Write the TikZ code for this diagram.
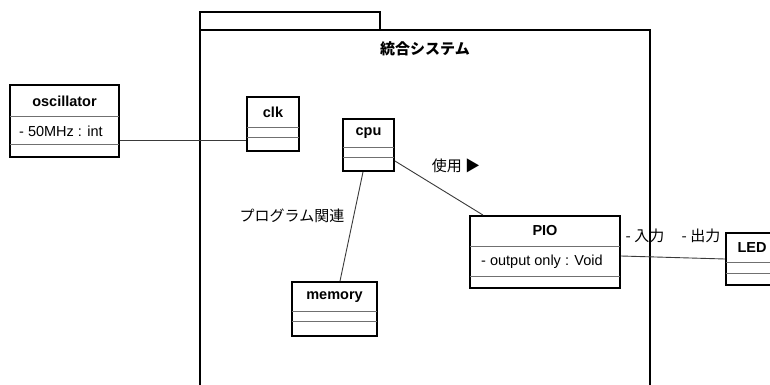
\documentclass[tikz,border=0pt]{standalone}
\usepackage{fontspec}
\setmainfont{Liberation Sans}
\newfontfamily\jp{Noto Sans CJK JP}
\usetikzlibrary{calc, positioning}
\definecolor{linecol}{HTML}{000000}
\definecolor{divcol}{HTML}{707070}
\definecolor{wirecol}{HTML}{3A3A3A}

\begin{document}
\begin{tikzpicture}[
    x=1pt, y=-1pt,
    every node/.style={font=\fontsize{14.5}{16}\selectfont},
    cls/.style={
        rectangle, draw=linecol, line width=1.9pt, fill=white,
        inner sep=0pt, minimum width=#1,
    },
    cname/.style={font=\fontsize{14.5}{16}\selectfont\bfseries, inner sep=0pt},
    attr/.style={anchor=west, inner sep=0pt},
    div/.style={draw=divcol, line width=0.8pt, shorten <=1pt, shorten >=1pt},
    wire/.style={draw=wirecol, line width=0.9pt},
    pkg/.style={draw=linecol, line width=1.9pt},
    jlab/.style={font=\fontsize{15}{17}\selectfont\jp, inner sep=0pt},
]
\clip (0,0) rectangle (770,385);
\fill[white] (0,0) rectangle (770,385);

% ---------------------------------------------------------------- package
\draw[pkg] (200,30) rectangle (380,12);
\draw[pkg] (200,395) -- (200,30) -- (650,30) -- (650,395);
\node[jlab, font=\fontsize{15}{17}\selectfont\jp\bfseries] (title) at (425,49) {統合システム};

% ---------------------------------------------------------------- classes
\node[cls=109pt, minimum height=72pt] (osc) at (64.5,121) {};
\node[cname] (osc-name) at (64.5,101) {oscillator};
\node[attr] (osc-attr) at (19,131) {- 50MHz : int};

\node[cls=52pt, minimum height=54pt] (clk) at (273,124) {};
\node[cname] (clk-name) at (273,112) {clk};

\node[cls=51pt, minimum height=52pt] (cpu) at (368.5,145) {};
\node[cname] (cpu-name) at (368.5,133) {cpu};

\node[cls=85pt, minimum height=54pt] (mem) at (334.5,309) {};
\node[cname] (mem-name) at (334.5,297) {memory};

\node[cls=150pt, minimum height=72pt] (pio) at (545,252) {};
\node[cname] (pio-name) at (545,231) {PIO};
\node[attr] (pio-attr) at (481,262) {- output only : Void};

\node[cls=52pt, minimum height=52pt] (led) at (752,259) {};
\node[cname] (led-name) at (752,248) {LED};

% compartments
\foreach \n/\a/\b in {osc/32/60, clk/31/41, cpu/29/39, mem/30/40, pio/31/61, led/30/41}{
    \draw[div] ($(\n.north west)+(0,\a)$) -- ($(\n.north east)+(0,\a)$);
    \draw[div] ($(\n.north west)+(0,\b)$) -- ($(\n.north east)+(0,\b)$);
}

% ---------------------------------------------------------------- links
\draw[wire] (osc.east |- 0,140) -- (clk.west |- 0,140);
\draw[wire] (cpu.east |- 0,161) -- (483,0 |- pio.north);
\draw[wire] (363,0 |- cpu.south) -- (340,0 |- mem.north);
\draw[wire] (pio.east |- 0,256) -- (led.west |- 0,259);

\node[jlab] (use) at (456,166) {使用 ▶};
\node[jlab] (prog) at (292,216) {プログラム関連};
\node[jlab] (in) at (645,236) {- 入力};
\node[jlab] (out) at (701,236) {- 出力};

\end{tikzpicture}
\end{document}
